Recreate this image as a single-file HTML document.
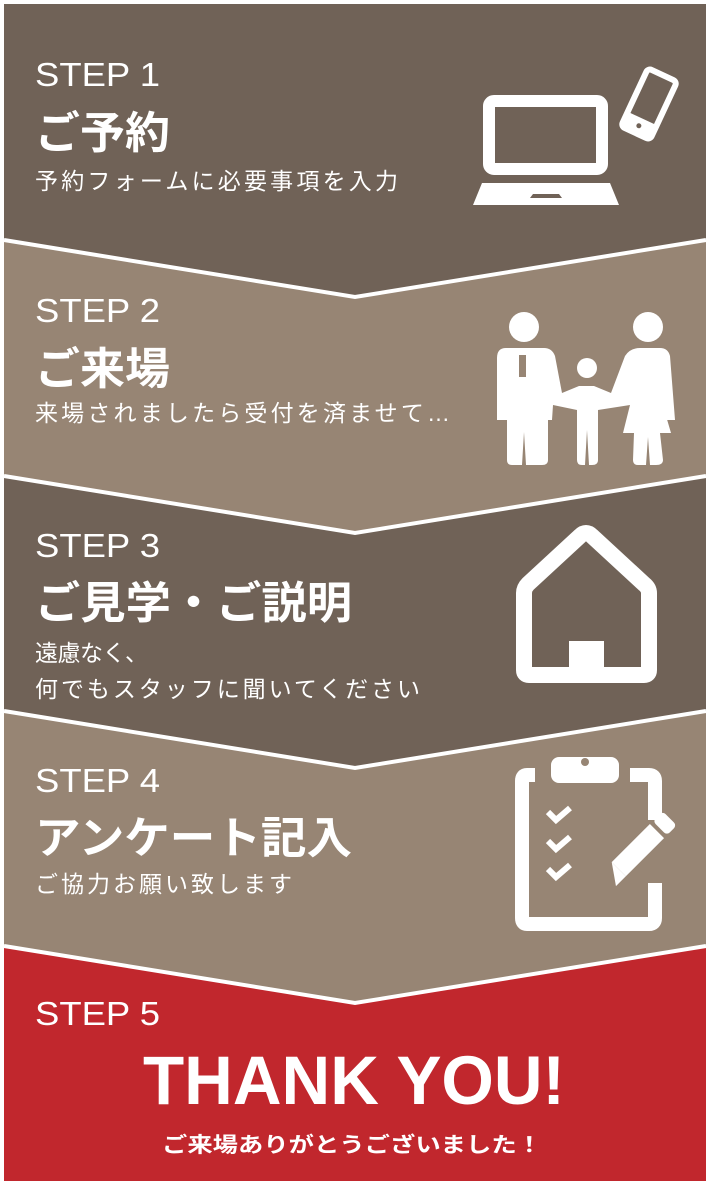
<!DOCTYPE html>
<html><head><meta charset="utf-8"><style>
html,body{margin:0;padding:0;background:#fff;}
svg{display:block;}
text{fill:#fff;}
.step{font-family:"Liberation Sans","DejaVu Sans",sans-serif;font-size:33px;}
.ttl{font-family:"Liberation Sans","Noto Sans CJK JP",sans-serif;font-size:44px;font-weight:bold;}
.sub{font-family:"Liberation Sans","Noto Sans CJK JP",sans-serif;font-size:23px;}
</style></head><body>
<svg width="710" height="1185" viewBox="0 0 710 1185" xmlns="http://www.w3.org/2000/svg">
<rect x="0" y="0" width="710" height="1185" fill="#fff"/>
<rect x="4" y="4" width="702" height="1177" fill="#c1272d"/>
<polygon points="4,4 706,4 706,946 355,1003 4,946" fill="#978574"/>
<polygon points="4,4 706,4 706,711 355,768 4,711" fill="#706257"/>
<polygon points="4,4 706,4 706,476 355,533 4,476" fill="#978574"/>
<polygon points="4,4 706,4 706,240 355,297 4,240" fill="#706257"/>
<g fill="none" stroke="#fff" stroke-width="4">
<polyline points="4,240 355,297 706,240"/>
<polyline points="4,476 355,533 706,476"/>
<polyline points="4,711 355,768 706,711"/>
<polyline points="4,946 355,1003 706,946"/>
</g>

<!-- Step 1 -->
<text class="step" x="35" y="86" textLength="125" lengthAdjust="spacingAndGlyphs">STEP 1</text>
<text class="ttl" x="35" y="148" textLength="135" lengthAdjust="spacingAndGlyphs">ご予約</text>
<text class="sub" x="35" y="189" textLength="363" lengthAdjust="spacing">予約フォームに必要事項を入力</text>
<rect x="489" y="101" width="113" height="68" rx="5" fill="none" stroke="#fff" stroke-width="12"/>
<polygon points="482,183 610,183 619,205 473,205" fill="#fff"/>
<polygon points="533,194 559,194 562,198 530,198" fill="#706257"/>
<g transform="rotate(25 649 104)">
<rect x="633" y="72" width="32" height="64" rx="4" fill="none" stroke="#fff" stroke-width="6"/>
<rect x="633" y="120" width="32" height="16" fill="#fff"/>
<circle cx="649" cy="128" r="2.5" fill="#706257"/>
</g>

<!-- Step 2 -->
<text class="step" x="35" y="322" textLength="125" lengthAdjust="spacingAndGlyphs">STEP 2</text>
<text class="ttl" x="35" y="384" textLength="135" lengthAdjust="spacingAndGlyphs">ご来場</text>
<text class="sub" x="35" y="421" textLength="415" lengthAdjust="spacing">来場されましたら受付を済ませて…</text>
<g fill="#fff">
<circle cx="524" cy="327" r="15"/>
<path d="M506,348 H544 Q552,348 555,356 L562,393 L579,386 L594,386 L611,393 L625,356 Q630,348 640,348 H660 Q668,348 670,356 L675,420 L660,420 L659,392 L671,433 L660,433 L663,460 Q663,465 656,465 L650,465 L648,437 L646,465 L638,465 Q633,465 633,460 L634,433 L623,433 L630,405 L598,410 L598,460 Q598,465 592,465 L589,465 L587,430 L585,465 L582,465 Q577,465 577,460 L577,410 L553,405 L552,420 L548,420 L548,460 Q548,465 542,465 L526,465 L524,432 L522,465 L512,465 Q507,465 507,460 L507,420 L497,420 L497,358 Q497,348 506,348 Z"/>
<circle cx="587" cy="368" r="10"/>
<circle cx="648" cy="327" r="15"/>
</g>
<rect x="519" y="355" width="7" height="22" fill="#978574"/>

<!-- Step 3 -->
<text class="step" x="35" y="557" textLength="125" lengthAdjust="spacingAndGlyphs">STEP 3</text>
<text class="ttl" x="35" y="618" textLength="317" lengthAdjust="spacingAndGlyphs">ご見学・ご説明</text>
<text class="sub" x="35" y="661" textLength="113" lengthAdjust="spacing">遠慮なく、</text>
<text class="sub" x="35" y="697" textLength="385" lengthAdjust="spacing">何でもスタッフに聞いてください</text>
<path d="M524,593 Q524,588 528,584 L580,536 Q586,530 592,536 L644,584 Q649,588 649,593 L649,670 Q649,675 644,675 L529,675 Q524,675 524,670 Z" fill="none" stroke="#fff" stroke-width="16" stroke-linejoin="round"/>
<rect x="569" y="641" width="35" height="36" fill="#fff"/>

<!-- Step 4 -->
<text class="step" x="35" y="792" textLength="125" lengthAdjust="spacingAndGlyphs">STEP 4</text>
<text class="ttl" x="35" y="853" textLength="317" lengthAdjust="spacingAndGlyphs">アンケート記入</text>
<text class="sub" x="35" y="892" textLength="257" lengthAdjust="spacing">ご協力お願い致します</text>
<path d="M535,775 H527 Q522,775 522,781 V918 Q522,924 527,924 H649 Q655,924 655,918 V883" fill="none" stroke="#fff" stroke-width="14"/>
<path d="M630,775 H649 Q655,775 655,781 V820" fill="none" stroke="#fff" stroke-width="14"/>
<rect x="551" y="757" width="68" height="26" rx="8" fill="#fff"/>
<circle cx="585" cy="762" r="4" fill="#978574"/>
<g fill="none" stroke="#fff" stroke-width="6">
<polyline points="548,812 556,820 570,808"/>
<polyline points="548,841 556,849 570,837"/>
<polyline points="548,869 556,877 570,865"/>
</g>
<g transform="translate(640 848) rotate(-45)" fill="#fff">
<rect x="-30" y="-10" width="54" height="20"/>
<rect x="28" y="-10" width="14" height="20" rx="4"/>
<polygon points="-30,-10 -44,10 -30,10"/>
</g>

<!-- Step 5 -->
<text class="step" x="35" y="1025" textLength="125" lengthAdjust="spacingAndGlyphs">STEP 5</text>
<text x="354" y="1104" text-anchor="middle" textLength="422" lengthAdjust="spacingAndGlyphs" style="font-family:'Liberation Sans',sans-serif;font-weight:bold;font-size:69px;">THANK YOU!</text>
<text x="352" y="1152" text-anchor="middle" textLength="380" lengthAdjust="spacingAndGlyphs" style="font-family:'Liberation Sans','Noto Sans CJK JP',sans-serif;font-weight:bold;font-size:21px;">ご来場ありがとうございました！</text>
</svg>
</body></html>
